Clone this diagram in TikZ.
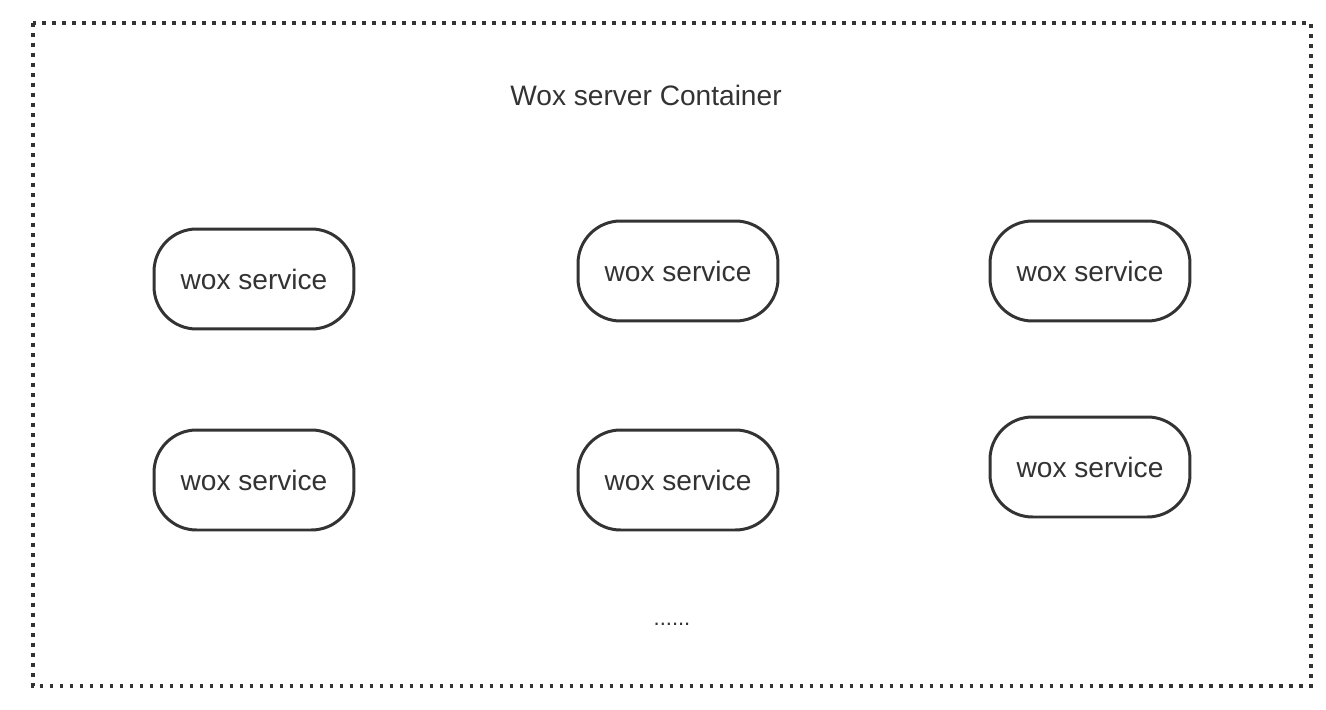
\documentclass[tikz,border=0pt]{standalone}
\usepackage{fontspec}
\setmainfont{Liberation Sans}
\usetikzlibrary{positioning}
\definecolor{woxgray}{HTML}{333333}
\tikzset{
service/.style={draw=woxgray, line width=1.7pt, rounded corners=0.85cm,
    minimum width=4.0cm, minimum height=2.0cm, text=woxgray, font=\fontsize{16}{18}\selectfont},
container/.style={draw=woxgray, line width=2.1pt, dash pattern=on 2.1pt off 3.59pt},
}

\begin{document}
\begin{tikzpicture}[x=0.02cm, y=-0.02cm]
            \useasboundingbox (0,0) rectangle (1326,710);
            \draw[container] (33,23) rectangle (1311,686);
            \node[text=woxgray, font=\fontsize{16}{18}\selectfont] (title) at (646,95) {Wox server Container};
            \node[service] (svc11) at (254,279) {wox service};
            \node[service] (svc12) at (678,271) {wox service};
            \node[service] (svc13) at (1090,271) {wox service};
            \node[service] (svc21) at (254,480) {wox service};
            \node[service] (svc22) at (678,480) {wox service};
            \node[service] (svc23) at (1090,467) {wox service};
            \node[text=woxgray, font=\fontsize{12.5}{14}\selectfont, anchor=base] (more) at (672,625) {......};
        \end{tikzpicture}
\end{document}
